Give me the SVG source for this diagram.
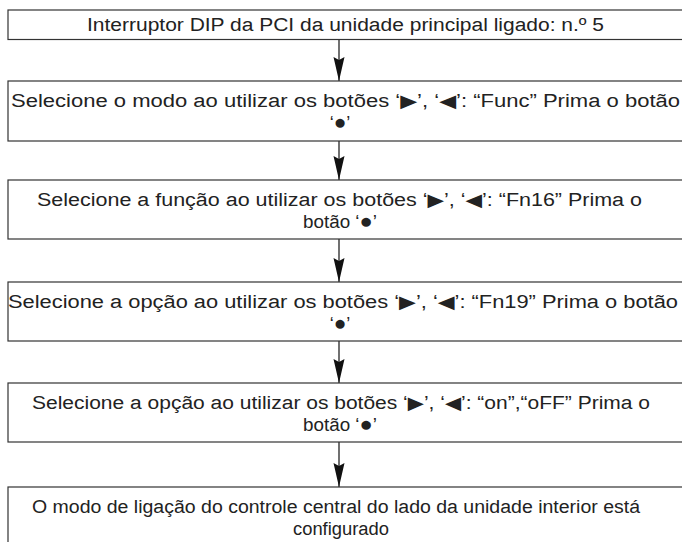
<svg xmlns="http://www.w3.org/2000/svg" width="682" height="542" viewBox="0 0 682 542">
<defs>
<style>
.box{fill:#fff;stroke:#333;stroke-width:1.2}
.t{font-family:"Liberation Sans","DejaVu Sans",sans-serif;font-size:18px;fill:#222;text-anchor:middle}
.b{font-size:21px}
.c{stroke:#111;stroke-width:1.2;fill:none}
</style>
<marker id="ah" viewBox="0 0 24 12" refX="24" refY="6" markerWidth="24" markerHeight="12" markerUnits="userSpaceOnUse" orient="auto">
<path d="M0,0.5 L24,6 L0,11.5 L3,6 Z" fill="#111"/>
</marker>
</defs>
<rect width="682" height="542" fill="#fff"/>
<g id="connectors">
<line class="c" x1="339" y1="40" x2="339" y2="81" marker-end="url(#ah)"/>
<line class="c" x1="339" y1="141" x2="339" y2="180" marker-end="url(#ah)"/>
<line class="c" x1="339" y1="239" x2="339" y2="282" marker-end="url(#ah)"/>
<line class="c" x1="339" y1="341" x2="339" y2="383" marker-end="url(#ah)"/>
<line class="c" x1="339" y1="442" x2="339" y2="487" marker-end="url(#ah)"/>
</g>
<g id="n1">
<rect class="box" x="8" y="10" width="690" height="29.5"/>
<text class="t" x="345.5" y="31" textLength="517" lengthAdjust="spacingAndGlyphs">Interruptor DIP da PCI da unidade principal ligado: n.º 5</text>
</g>
<g id="n2">
<rect class="box" x="8" y="81" width="690" height="60"/>
<text class="t" x="345.5" y="107" textLength="669" lengthAdjust="spacingAndGlyphs">Selecione o modo ao utilizar os botões ‘▶’, ‘◀’: “Func” Prima o botão</text>
<text class="t" x="340" y="128.5">‘<tspan class="b">●</tspan>’</text>
</g>
<g id="n3">
<rect class="box" x="8" y="180" width="690" height="59"/>
<text class="t" x="339.5" y="206" textLength="605" lengthAdjust="spacingAndGlyphs">Selecione a função ao utilizar os botões ‘▶’, ‘◀’: “Fn16” Prima o</text>
<text class="t" x="340" y="227.5" textLength="74" lengthAdjust="spacingAndGlyphs">botão ‘<tspan class="b">●</tspan>’</text>
</g>
<g id="n4">
<rect class="box" x="8" y="282" width="690" height="59"/>
<text class="t" x="343" y="308" textLength="670" lengthAdjust="spacingAndGlyphs">Selecione a opção ao utilizar os botões ‘▶’, ‘◀’: “Fn19” Prima o botão</text>
<text class="t" x="340" y="329.5">‘<tspan class="b">●</tspan>’</text>
</g>
<g id="n5">
<rect class="box" x="8" y="383" width="690" height="59"/>
<text class="t" x="341" y="409" textLength="618" lengthAdjust="spacingAndGlyphs">Selecione a opção ao utilizar os botões ‘▶’, ‘◀’: “on”,“oFF” Prima o</text>
<text class="t" x="340" y="430.5" textLength="74" lengthAdjust="spacingAndGlyphs">botão ‘<tspan class="b">●</tspan>’</text>
</g>
<g id="n6">
<rect class="box" x="8" y="487" width="690" height="70"/>
<text class="t" x="336" y="513" textLength="608" lengthAdjust="spacingAndGlyphs">O modo de ligação do controle central do lado da unidade interior está</text>
<text class="t" x="341" y="534.5" textLength="96" lengthAdjust="spacingAndGlyphs">configurado</text>
</g>
</svg>
